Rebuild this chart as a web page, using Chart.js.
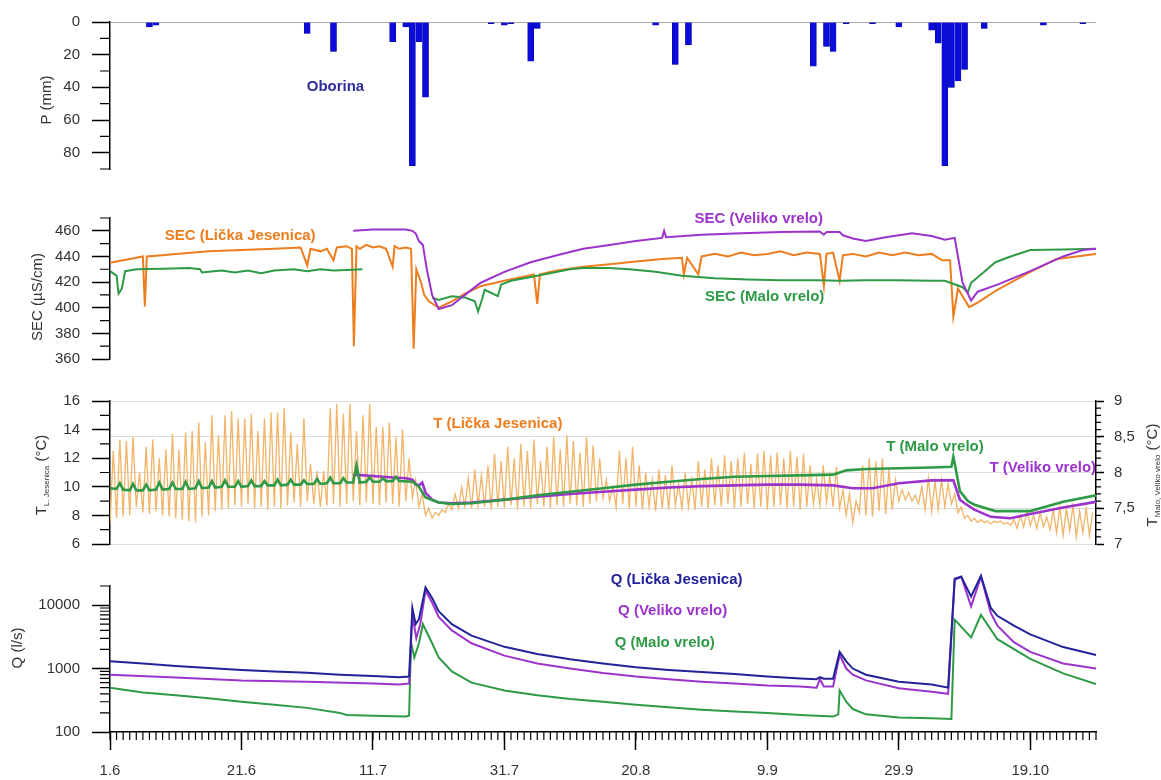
<!DOCTYPE html>
<html>
<head>
<meta charset="utf-8">
<script src="https://cdn.jsdelivr.net/npm/chart.js@4.4.1/dist/chart.umd.min.js"></script>
<style>
  body { margin: 0; background: #fff; }
  #wrap { position: relative; width: 1161px; height: 780px; overflow: hidden; }
  #wrap canvas { position: absolute; left: 0; }
</style>
</head>
<body>
<div id="wrap">
  <canvas id="cP" width="1161" height="190" style="top:0px"></canvas>
  <canvas id="cSEC" width="1161" height="190" style="top:190px"></canvas>
  <canvas id="cT" width="1161" height="185" style="top:380px"></canvas>
  <canvas id="cQ" width="1161" height="215" style="top:565px"></canvas>
</div>
<script>
// x axis: days since 1.6
const tickDays = [0, 20, 40, 60, 80, 100, 120, 140];
const tickLabels = ['1.6', '21.6', '11.7', '31.7', '20.8', '9.9', '29.9', '19.10'];

// precipitation (mm)
const precipDays = [6, 7, 30, 34, 43, 45, 46, 47, 48, 58, 60, 61, 64, 65, 83, 86, 88, 107, 109, 110, 112, 116, 120, 125, 126, 127, 128, 129, 130, 133, 142, 148];
const precipMm   = [3, 2, 7, 18, 12, 3, 88, 12, 46, 1, 2, 1, 24, 4, 2, 26, 14, 27, 15, 18, 1, 1, 3, 5, 13, 88, 40, 36, 29, 4, 2, 1];

// SEC (uS/cm)
const secLJDays = [0,2,4,5,5.3,5.6,8,10,15,20,25,29,30,30.5,32,33,34,34.5,36,36.8,37.1,37.5,38,39,40,41,42,43,43.3,44,45,45.8,46.2,46.6,47.3,47.8,48.5,50,52,54,56.5,60,64.5,65,65.4,68,72,76,80,84,87,87.3,87.8,89.5,90,92,94,96,98,100,102,104,106,108,108.6,109,110,111,111.5,113,115,117,119,121,123,125,126.6,127.8,128.3,129,130.7,132,135,140,144,147,150];
const secLJVals = [435,437,439,440,401,440,441,442,444,445,446,447,433,446,444,446,437,447,448,446,370,448,446,449,447,448,446,432,448,446,447,446,368,430,420,410,405,400,405,411,417,421,426,403,426,429,432,434,436,438,439,426,439,426,440,442,440,443,441,442,444,441,443,442,417,442,443,421,441,442,440,443,441,443,441,442,437,437,393,415,400.5,404,414,428,438,440,442];

const secVVDays = [37,40,45,46,46.5,47,47.6,48.2,49,50,52,54,56.4,60,64,68,72,76,80,84,84.3,84.6,90,95,102,108,108.6,109,111,111.5,113,115,118,122,125,127,128.5,129,129.7,131,132,135,140,145,148,150];
const secVVVals = [460,461,461,460,458,452,449,430,410,399,402,410,419.5,428,435.5,441,446,449,452,454.5,460,455,457,458,459,459.5,457,459,459,456.5,454,452,455,458,456,453,454.5,440,419.5,405.5,412.5,418,428.5,440,445,446];

const secMVDays = [0,1,1.3,1.8,2.3,4,8,12,13.7,14,15,17,19,21,23,25,28,30,32,34,36,38.4,43,49,50,52,54,55.5,56,56.5,57,59,59.5,61,65,70,72,76,79,83,87,92,97,102,108,111,115,120,125,127,129.7,130.5,131,133,134.7,137,140,145,150];
const secMVVals = [428.5,425,411,415,428.5,430,430.5,431,430,427.5,428,429,427.5,429,427,429,430,428.5,430,429,429.5,430,null,408,406,409,408,405,397,405,414,409,418,421,425,430,431,431,430,428,425,423,422,421.5,421.5,421,421.5,421.5,421,421,416,412,419.5,428,435.5,440,445,445.5,446];

// T Licka Jesenica (left axis): daily maximum and minimum, day 0..149
const tLJMax = [
  12.5,13.3,13.2,13.5,11.0,12.8,13.3,12.0,12.6,13.7,
  12.6,13.8,13.9,14.5,13.1,15.0,13.6,15.0,15.3,14.8,
  14.8,15.1,13.9,14.8,15.2,15.2,15.5,13.8,13.0,14.8,
  11.6,11.1,11.1,15.5,15.8,15.1,15.8,13.9,15.0,15.8,
  14.2,14.2,14.5,13.5,14.0,12.0,10.5,9.5,8.5,8.2,
  8.4,8.8,9.5,10.0,10.6,11.2,10.8,11.5,12.3,11.8,
  12.8,12.0,13.0,12.5,13.3,11.8,12.8,13.5,12.6,13.6,
  13.2,12.4,13.5,12.9,12.0,10.5,10.0,12.5,12.0,12.8,
  11.5,11.0,10.5,11.2,10.8,11.5,10.2,11.0,10.5,11.8,
  11.2,12.0,11.5,12.2,11.8,12.0,12.4,11.6,12.3,12.5,
  12.2,12.4,12.0,12.5,12.1,12.3,11.5,10.5,11.5,10.8,
  11.4,9.8,9.5,9.0,11.5,12.0,11.8,12.0,11.2,10.5,
  9.8,9.6,9.4,10.0,10.6,10.4,10.5,10.2,9.5,8.6,
  8.0,7.8,7.7,7.6,7.6,7.6,7.5,7.7,8.0,8.3,
  8.0,8.2,7.9,8.4,8.6,8.5,8.7,8.3,8.5,8.2
];
const tLJMin = [
  7.4,7.8,7.9,8.0,8.6,8.2,8.1,8.3,8.0,7.9,
  7.8,7.7,7.6,7.5,7.9,8.0,8.3,8.4,8.5,8.7,
  8.6,8.8,8.5,8.6,8.4,8.6,8.5,8.7,8.9,8.6,
  9.0,8.8,8.6,8.7,8.8,8.6,8.8,9.0,8.7,8.9,
  8.8,8.7,8.9,8.8,8.6,9.0,9.2,8.6,8.0,7.8,
  8.0,8.2,8.4,8.5,8.6,8.5,8.7,8.6,8.4,8.6,
  8.5,8.7,8.4,8.6,8.5,8.8,8.6,8.5,8.7,8.6,
  8.8,8.7,8.6,8.8,9.0,9.2,9.0,8.6,8.8,8.5,
  8.6,8.4,8.6,8.3,8.5,8.4,8.7,8.5,8.6,8.4,
  8.6,8.5,8.7,8.6,8.8,8.5,8.6,8.8,8.5,8.6,
  8.4,8.6,8.7,8.5,8.6,8.4,8.6,8.8,8.7,8.9,
  8.6,8.5,8.0,7.5,8.2,8.0,7.9,8.3,8.1,8.4,
  9.0,9.1,9.0,8.8,8.4,8.3,8.4,8.6,8.8,8.2,
  7.8,7.6,7.5,7.5,7.4,7.5,7.4,7.3,7.1,7.2,
  7.3,7.1,7.2,7.0,6.8,6.6,6.9,6.5,6.8,6.6
];

// T Malo vrelo and Veliko vrelo (right axis)
const tMVDays = [
  0,
  1, 1.5, 2, 3, 3.5, 4, 5, 5.5, 6, 7, 7.5, 8, 9, 9.5, 10,
  11, 11.5, 12, 13, 13.5, 14, 15, 15.5, 16, 17, 17.5, 18, 19, 19.5, 20,
  21, 21.5, 22, 23, 23.5, 24, 25, 25.5, 26, 27, 27.5, 28, 29, 29.5, 30,
  31, 31.5, 32, 33, 33.5, 34, 35, 35.5, 36, 37, 37.5, 38, 39, 39.5, 40,
  41, 41.5, 42, 43, 43.5, 44,
  46, 47, 48, 50, 52, 55, 60, 65, 70, 75, 80, 85, 90, 95, 100, 105, 110, 112, 115, 120, 125, 128,
  128.3, 128.6, 129.3, 130.5, 131.5, 134.7, 140, 145, 150
];
const tMVVals = [
  7.78,
  7.77, 7.85, 7.76, 7.75, 7.84, 7.75, 7.75, 7.83, 7.75, 7.76, 7.86, 7.76, 7.77, 7.86, 7.77,
  7.77, 7.87, 7.77, 7.78, 7.88, 7.78, 7.79, 7.88, 7.79, 7.80, 7.89, 7.80, 7.80, 7.88, 7.80,
  7.81, 7.89, 7.81, 7.81, 7.88, 7.82, 7.82, 7.90, 7.82, 7.83, 7.90, 7.83, 7.83, 7.89, 7.84,
  7.84, 7.91, 7.84, 7.85, 7.93, 7.85, 7.85, 7.92, 7.86, 7.86, 8.10, 7.86, 7.87, 7.93, 7.87,
  7.87, 7.92, 7.88, 7.88, 7.94, 7.88,
  7.87, 7.80, 7.65, 7.58, 7.56, 7.57, 7.62, 7.68, 7.73, 7.78, 7.83, 7.87, 7.91, 7.94, 7.95, 7.96, 7.97, 8.03, 8.05, 8.06, 8.07, 8.08,
  8.22, 8.08, 7.74, 7.60, 7.55, 7.46, 7.46, 7.59, 7.68
];
const tVVDays = [37,40,43,45,46,46.5,47,47.5,48,49,50,52,55,60,65,70,75,80,85,90,95,100,105,110,113,116,120,125,128.3,129.3,130,131.5,134,137,140,145,150];
const tVVVals = [7.97,7.95,7.93,7.92,7.90,7.84,7.82,7.86,7.72,7.62,7.58,7.57,7.58,7.62,7.66,7.70,7.73,7.76,7.79,7.81,7.82,7.83,7.83,7.82,7.78,7.78,7.85,7.89,7.89,7.62,7.57,7.48,7.38,7.36,7.42,7.51,7.59];

// discharge Q (l/s)
const qLJDays = [0,5,10,15,20,25,30,35,40,44,45.5,46,46.5,47,48,49,50,52,55,60,65,70,75,80,85,90,95,100,105,107.5,108,108.6,110,111,112,113,115,120,125,127.5,128.5,129.5,131,132.5,134,135,137.5,140,145,150];
const qLJVals = [1300,1200,1100,1020,950,900,860,800,760,730,750,9000,5000,6000,19000,13000,8000,5000,3300,2200,1700,1400,1200,1050,950,880,820,750,700,680,730,690,690,1830,1300,1000,800,620,560,500,26000,28000,13700,29000,9000,6770,4750,3450,2180,1640];
const qVVDays = [0,10,20,30,40,44,45.5,46,46.6,47.2,48,49,50,52,55,60,65,70,75,80,85,90,95,100,105,107.5,108,108.6,110,111,112,113,115,120,125,127.5,128.5,129.5,131,132.5,134,135,137.5,140,145,150];
const qVVVals = [800,720,650,620,580,560,580,7000,3000,5000,17000,11000,6500,4000,2500,1600,1200,1000,850,750,680,620,580,540,520,500,680,520,520,1640,1000,800,650,490,430,400,25000,28000,9600,28000,7500,4750,2600,1830,1200,1000];
const qMVDays = [0,5,10,15,20,25,30,35,36,40,45,45.5,45.8,46.3,47,47.6,49,50,52,55,60,65,70,75,80,85,90,95,100,105,110,110.8,111,112,113,115,120,125,128,128.5,131,132.5,135,140,145,150];
const qMVVals = [500,420,380,340,300,270,240,200,185,180,175,180,2600,1500,2500,5000,2500,1500,900,600,450,380,330,300,270,245,225,210,200,185,175,190,450,300,230,190,170,165,160,5900,3100,7000,2900,1420,840,570];

// axis ticks
const pTicks = [0, 20, 40, 60, 80];
const secTicks = [360, 380, 400, 420, 440, 460];
const tLeftTicks = [6, 8, 10, 12, 14, 16];
const tRightTicks = [7, 7.5, 8, 8.5, 9];
const qTicks = [100, 1000, 10000];

const FONT = "'Liberation Sans', Arial, Helvetica, sans-serif";
Chart.defaults.font.family = FONT;
Chart.defaults.font.size = 15;
Chart.defaults.color = '#333';
Chart.defaults.animation = false;

const ORANGE = '#ee7d1e', ORANGE_T = '#f2b468', PURPLE = '#9b33cc', GREEN = '#2e9a46', NAVY = '#22229a';

function pairs(days, vals) {
  return days.map((d, i) => ({ x: d, y: vals[i] }));
}
function steps(a, b, st) {
  const out = [];
  for (let i = 0; a + i * st <= b + 1e-9; i++) out.push(+(a + i * st).toFixed(4));
  return out;
}
function logMinor(lo, hi) {
  const out = [];
  for (let e = lo; e < hi; e *= 10) for (let k = 2; k <= 9; k++) out.push(k * e);
  return out;
}

// small outside ticks between the labelled ones
const minorTicks = {
  id: 'minorTicks',
  afterDraw(chart, args, opts) {
    const ctx = chart.ctx;
    (opts.axes || []).forEach(a => {
      const s = chart.scales[a.id];
      ctx.save();
      ctx.strokeStyle = '#000';
      ctx.lineWidth = 1.2;
      ctx.beginPath();
      a.values.forEach(v => {
        if (v < s.min - 1e-9 || v > s.max + 1e-9) return;
        const p = s.getPixelForValue(v);
        if (s.isHorizontal()) { ctx.moveTo(p, s.top); ctx.lineTo(p, s.top + a.len); }
        else if (s.position === 'left') { ctx.moveTo(s.right, p); ctx.lineTo(s.right - a.len, p); }
        else { ctx.moveTo(s.left, p); ctx.lineTo(s.left + a.len, p); }
      });
      ctx.stroke();
      ctx.restore();
    });
  }
};

// series names written inside the panels
const notes = {
  id: 'notes',
  afterDatasetsDraw(chart, args, opts) {
    const ctx = chart.ctx;
    (opts.items || []).forEach(n => {
      const x = chart.scales.x.getPixelForValue(n.day);
      const y = chart.scales[n.axis || 'y'].getPixelForValue(n.value);
      ctx.save();
      ctx.font = 'bold 15px ' + FONT;
      ctx.fillStyle = n.color;
      ctx.textAlign = 'center';
      ctx.textBaseline = 'middle';
      ctx.fillText(n.text, x, y);
      ctx.restore();
    });
  }
};

// rotated axis titles (with subscripts for T)
const axisTitles = {
  id: 'axisTitles',
  afterDraw(chart, args, opts) {
    const ctx = chart.ctx;
    (opts.items || []).forEach(t => {
      const big = '15px ' + FONT, small = '8px ' + FONT;
      const parts = [[t.text, big, 0]];
      if (t.sub) parts.push([t.sub, small, 5]);
      if (t.tail) parts.push([t.tail, big, 0]);
      ctx.save();
      ctx.translate(t.x, t.y);
      ctx.rotate(-Math.PI / 2);
      ctx.fillStyle = '#333';
      ctx.textAlign = 'left';
      ctx.textBaseline = 'middle';
      let w = 0;
      parts.forEach(p => { ctx.font = p[1]; w += ctx.measureText(p[0]).width; });
      let cx = -w / 2;
      parts.forEach(p => { ctx.font = p[1]; ctx.fillText(p[0], cx, p[2]); cx += ctx.measureText(p[0]).width; });
      ctx.restore();
    });
  }
};

Chart.register(minorTicks, notes, axisTitles);

function xScale(show) {
  return {
    type: 'linear', min: 0, max: 150, offset: false, display: show,
    afterBuildTicks: s => { s.ticks = tickDays.map(v => ({ value: v })); },
    afterFit: s => { if (show) s.height = 48; },
    grid: { drawOnChartArea: false, tickLength: 18, tickColor: '#000', tickWidth: 1.5 },
    border: { color: '#000', width: 1.5 },
    ticks: { padding: 12, autoSkip: false, maxRotation: 0, callback: (v, i) => tickLabels[i] }
  };
}

function yLeft(list, extra) {
  return Object.assign({
    position: 'left',
    afterFit: s => { s.width = 110; },
    afterBuildTicks: s => { s.ticks = list.map(v => ({ value: v })); },
    grid: { drawOnChartArea: false, tickLength: 18, tickColor: '#000', tickWidth: 1.5 },
    border: { color: '#000', width: 1.5 },
    ticks: { padding: 12, autoSkip: false }
  }, extra);
}

function line(data, color, width, extra) {
  return Object.assign({
    data: data, borderColor: color, borderWidth: width,
    pointRadius: 0, tension: 0, fill: false
  }, extra || {});
}

const base = { responsive: false, devicePixelRatio: 1, animation: false, events: [] };

// ---- precipitation
new Chart(document.getElementById('cP'), {
  type: 'bar',
  data: {
    datasets: [{
      data: pairs(precipDays, precipMm),
      backgroundColor: '#0b0bdc', borderColor: '#06068a', borderWidth: 0.5,
      barThickness: 6
    }]
  },
  options: Object.assign({}, base, {
    layout: { padding: { top: 22, bottom: 10, right: 65, left: 0 } },
    scales: {
      x: xScale(false),
      y: yLeft(pTicks, {
        type: 'linear', min: 0, max: 90, reverse: true,
        grid: {
          drawOnChartArea: true, tickLength: 18, tickColor: '#000', tickWidth: 1.5,
          color: c => (c.tick && c.tick.value === 0) ? '#aaaaaa' : 'rgba(0,0,0,0)'
        }
      })
    },
    plugins: {
      legend: { display: false }, tooltip: { enabled: false },
      minorTicks: { axes: [{ id: 'y', values: steps(10, 90, 20), len: 10 }] },
      notes: { items: [{ text: 'Oborina', color: '#2e2e9e', day: 34.3, value: 40 }] },
      axisTitles: { items: [{ text: 'P (mm)', x: 47, y: 100 }] }
    }
  })
});

// ---- SEC
new Chart(document.getElementById('cSEC'), {
  type: 'line',
  data: {
    datasets: [
      line(pairs(secVVDays, secVVVals), PURPLE, 2),
      line(pairs(secMVDays, secMVVals), GREEN, 2),
      line(pairs(secLJDays, secLJVals), ORANGE, 2)
    ]
  },
  options: Object.assign({}, base, {
    layout: { padding: { top: 28, bottom: 5, right: 65, left: 0 } },
    scales: {
      x: xScale(false),
      y: yLeft(secTicks, { type: 'linear', min: 360, max: 470 })
    },
    plugins: {
      legend: { display: false }, tooltip: { enabled: false },
      minorTicks: { axes: [{ id: 'y', values: steps(370, 470, 20), len: 10 }] },
      notes: { items: [
        { text: 'SEC (Lička Jesenica)', color: ORANGE, day: 19.8, value: 455.8 },
        { text: 'SEC (Veliko vrelo)', color: PURPLE, day: 98.7, value: 469.5 },
        { text: 'SEC (Malo vrelo)', color: GREEN, day: 99.6, value: 408.3 }
      ] },
      axisTitles: { items: [{ text: 'SEC (µS/cm)', x: 38, y: 107 }] }
    }
  })
});

// ---- temperature
const tLJPoints = [];
tLJMax.forEach((v, d) => { tLJPoints.push({ x: d, y: tLJMin[d] }, { x: d + 0.5, y: v }); });

new Chart(document.getElementById('cT'), {
  type: 'line',
  data: {
    datasets: [
      line(pairs(tMVDays, tMVVals), GREEN, 2.6, { yAxisID: 'y1' }),
      line(pairs(tVVDays, tVVVals), PURPLE, 2.6, { yAxisID: 'y1' }),
      line(tLJPoints, ORANGE_T, 1.3, { yAxisID: 'y' })
    ]
  },
  options: Object.assign({}, base, {
    layout: { padding: { top: 17, bottom: 11, right: 0, left: 0 } },
    scales: {
      x: xScale(false),
      y: yLeft(tLeftTicks, { type: 'linear', min: 6, max: 16 }),
      y1: {
        type: 'linear', position: 'right', min: 7, max: 9,
        afterFit: s => { s.width = 65; },
        afterBuildTicks: s => { s.ticks = tRightTicks.map(v => ({ value: v })); },
        grid: { drawOnChartArea: true, color: '#dcdcdc', lineWidth: 1, tickLength: 8, tickColor: '#000', tickWidth: 1.5 },
        border: { color: '#000', width: 1.5 },
        ticks: { padding: 10, autoSkip: false, callback: v => String(v).replace('.', ',') }
      }
    },
    plugins: {
      legend: { display: false }, tooltip: { enabled: false },
      minorTicks: { axes: [
        { id: 'y', values: steps(7, 15, 2), len: 10 },
        { id: 'y1', values: steps(7.1, 8.9, 0.1), len: 5 }
      ] },
      notes: { items: [
        { text: 'T (Lička Jesenica)', color: ORANGE, day: 59, value: 14.4 },
        { text: 'T (Malo vrelo)', color: GREEN, day: 125.5, value: 12.8 },
        { text: 'T (Veliko vrelo)', color: PURPLE, day: 141.9, value: 11.3 }
      ] },
      axisTitles: { items: [
        { text: 'T', sub: 'L. Jesenica', tail: ' (°C)', x: 42, y: 95 },
        { text: 'T', sub: 'Malo, Veliko vrelo', tail: ' (°C)', x: 1153, y: 95 }
      ] }
    }
  })
});

// ---- discharge
new Chart(document.getElementById('cQ'), {
  type: 'line',
  data: {
    datasets: [
      line(pairs(qLJDays, qLJVals), NAVY, 2, { clip: false }),
      line(pairs(qVVDays, qVVVals), PURPLE, 2, { clip: false }),
      line(pairs(qMVDays, qMVVals), GREEN, 2)
    ]
  },
  options: Object.assign({}, base, {
    layout: { padding: { top: 17, bottom: 0, right: 65, left: 0 } },
    scales: {
      x: xScale(true),
      y: yLeft(qTicks, {
        type: 'logarithmic', min: 100, max: 20000,
        ticks: { padding: 12, autoSkip: false, callback: v => String(v) }
      })
    },
    plugins: {
      legend: { display: false }, tooltip: { enabled: false },
      minorTicks: { axes: [
        { id: 'y', values: logMinor(100, 20000).filter(v => v <= 20000), len: 10 },
        { id: 'x', values: steps(0, 150, 1), len: 8 }
      ] },
      notes: { items: [
        { text: 'Q (Lička Jesenica)', color: NAVY, day: 86.2, value: 25000 },
        { text: 'Q (Veliko vrelo)', color: PURPLE, day: 85.6, value: 8100 },
        { text: 'Q (Malo vrelo)', color: GREEN, day: 84.4, value: 2500 }
      ] },
      axisTitles: { items: [{ text: 'Q (l/s)', x: 18, y: 83 }] }
    }
  })
});
</script>
</body>
</html>
